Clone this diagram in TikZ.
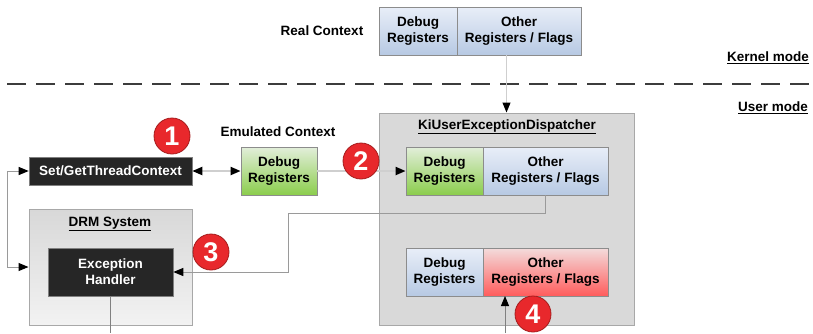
\documentclass[tikz,border=0pt]{standalone}
\usepackage{fontspec}
\setmainfont{Liberation Sans}
\usetikzlibrary{arrows.meta}
\definecolor{linegray}{HTML}{9A9A9A}
\definecolor{lightline}{HTML}{CFCFCF}
\definecolor{boxedge}{HTML}{8C8C8C}
\definecolor{darkfill}{HTML}{262626}
\definecolor{badgered}{HTML}{E8282C}
\definecolor{badgeedge}{HTML}{A51C1C}
\newcommand\lblfont{\fontsize{13.5}{16}\selectfont\bfseries}
\tikzset{
  tip/.style={-{Triangle[length=10pt,width=8pt,color=black]}},
  twotip/.style={{Triangle[length=10pt,width=8pt,color=black]}-{Triangle[length=10pt,width=8pt,color=black]}},
  reg/.style={draw=boxedge, line width=0.8pt, minimum height=48pt, inner sep=0pt,
    align=center, font=\lblfont},
  greenreg/.style={reg, top color={rgb,255:red,226;green,238;blue,218}, bottom color={rgb,255:red,139;green,205;blue,76}},
  bluereg/.style={reg, top color={rgb,255:red,232;green,238;blue,248}, bottom color={rgb,255:red,183;green,201;blue,227}},
  redreg/.style={reg, top color={rgb,255:red,243;green,220;blue,220}, bottom color={rgb,255:red,255;green,92;blue,92}},
  darkbox/.style={draw=gray, line width=0.6pt, fill=darkfill, text=white, inner sep=0pt,
    align=center, font=\lblfont},
  groupbox/.style={draw={rgb,255:red,168;green,168;blue,168}, line width=1pt, inner sep=0pt},
  badge/.style={circle, fill=badgered, draw=badgeedge, line width=0.8pt, minimum size=36pt,
    inner sep=0pt, text=white, font=\fontsize{27}{27}\selectfont\bfseries},
  plain/.style={font=\lblfont, inner sep=0pt},
  conn/.style={draw=linegray, line width=1pt},
  softconn/.style={draw=lightline, line width=2pt},
}
\begin{document}
\begin{tikzpicture}[x=1pt,y=-1pt]
\useasboundingbox (0,0) rectangle (813,333);

% kernel / user boundary
\draw[line width=1.3pt, draw={rgb,255:red,60;green,60;blue,60}, dash pattern=on 19pt off 10pt]
  (7,84) -- (813,84);
\node[plain, anchor=east] (kernel) at (809,58) {\underline{Kernel mode}};
\node[plain, anchor=east] (user) at (808,108) {\underline{User mode}};

% real context in kernel mode
\node[plain] (realctx) at (322,31) {Real Context};
\node[bluereg, minimum width=78pt] (rd) at (418,31) {Debug\\Registers};
\node[bluereg, minimum width=124pt] (ro) at (519,31) {Other\\Registers / Flags};

% dispatcher group
\node[groupbox, fill={rgb,255:red,217;green,217;blue,217}, minimum width=255pt, minimum height=212pt]
  (kiu) at (506.5,219) {};
\node[plain] (kiulbl) at (507,127) {\underline{KiUserExceptionDispatcher}};
\node[greenreg, minimum width=77pt] (kd1) at (444.5,171) {Debug\\Registers};
\node[bluereg, minimum width=125pt] (ko1) at (545.5,171) {Other\\Registers / Flags};
\node[bluereg, minimum width=77pt] (kd2) at (444.5,272) {Debug\\Registers};
\node[redreg, minimum width=125pt] (ko2) at (545.5,272) {Other\\Registers / Flags};

% emulated context
\node[plain] (emulbl) at (278,132) {Emulated Context};
\node[greenreg, minimum width=76pt] (emu) at (279,171) {Debug\\Registers};

% thread context API
\node[darkbox, minimum width=163pt, minimum height=28pt] (set) at (110.5,171) {Set/GetThreadContext};

% DRM system group
\node[groupbox, top color={rgb,255:red,216;green,216;blue,216}, bottom color={rgb,255:red,242;green,242;blue,242},
  minimum width=163pt, minimum height=116pt] (drm) at (110.5,267) {};
\node[plain] (drmlbl) at (110,224) {\underline{DRM System}};
\node[darkbox, minimum width=125pt, minimum height=48pt] (exc) at (110.5,272) {Exception\\Handler};

% connectors
\coordinate (bend) at (288,213);
\coordinate (excout) at (110.5,333);
\coordinate (up) at (505,333);
\coordinate (upend) at (505,296);

\draw[softconn, twotip] (set.east) -- (emu.west);
\draw[softconn, tip] (emu.east) -- (kd1.west);
\draw[conn, twotip] (set.west) -- ++(-21,0) |- (drm.west);
\draw[conn, tip] (ko1.south) |- (bend) |- (exc.east);
\draw[draw=lightline, line width=1pt, tip] (kiu.north |- ro.south) -- (kiu.north);
\draw[conn, draw=gray] (exc.south) -- (excout);
\draw[conn, draw=gray, tip] (up) -- (upend);

% step badges
\node[badge] (b1) at (172,136) {1};
\node[badge] (b2) at (361,161) {2};
\node[badge] (b3) at (211,252) {3};
\node[badge] (b4) at (533,314) {4};
\end{tikzpicture}
\end{document}
